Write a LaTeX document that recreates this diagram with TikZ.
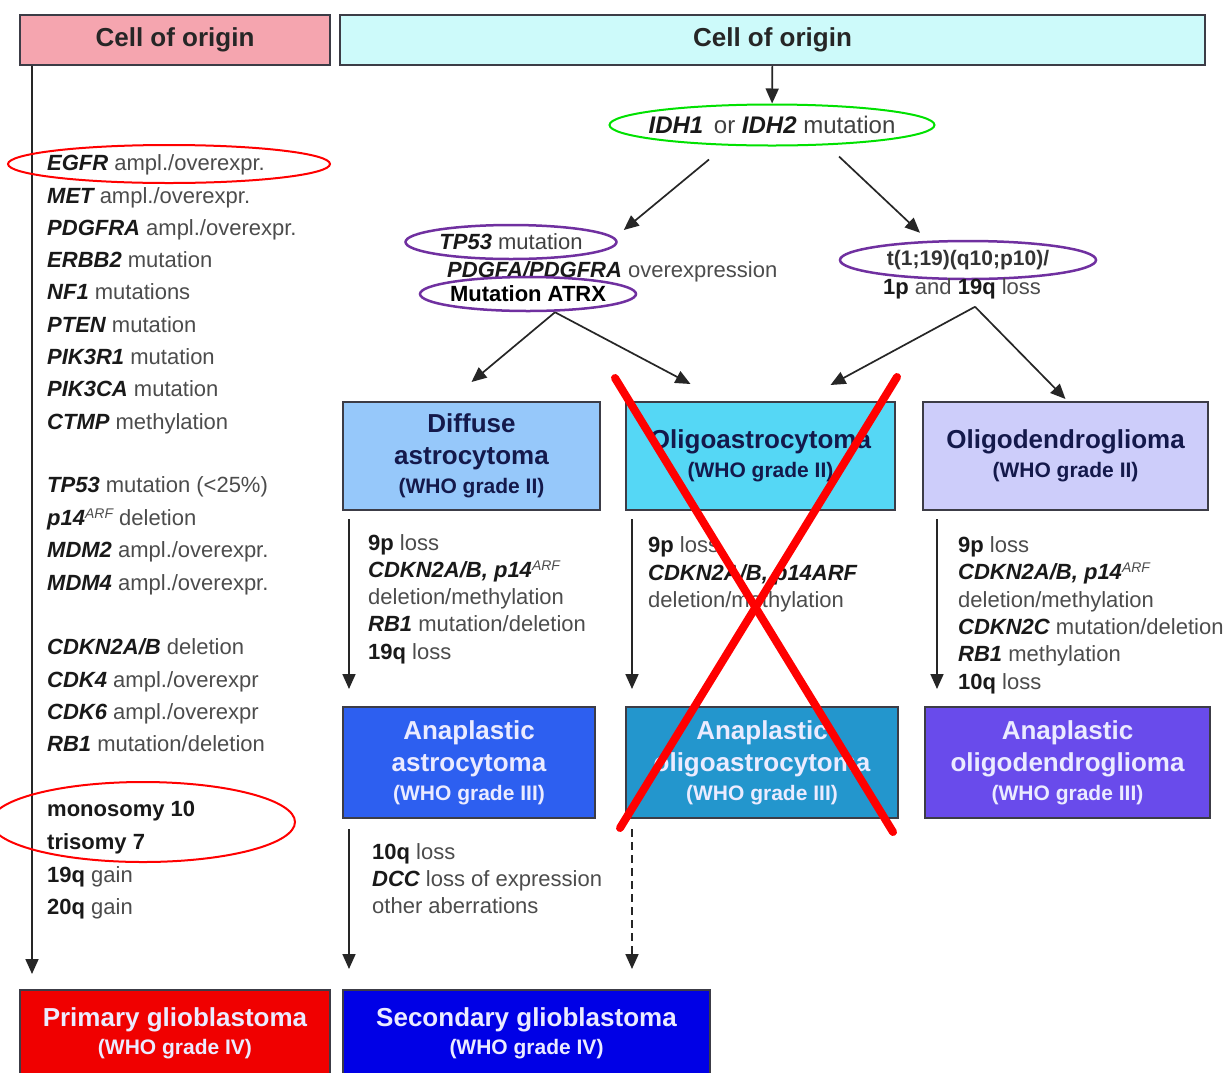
\documentclass[tikz,border=0pt]{standalone}
\usepackage{fontspec}
\setmainfont{Liberation Sans}
\usetikzlibrary{positioning, shapes.geometric, arrows.meta}

\definecolor{headpink}{RGB}{245,165,175}
\definecolor{headcyan}{RGB}{205,250,250}
\definecolor{diffblue}{RGB}{150,200,250}
\definecolor{oacyan}{RGB}{85,215,245}
\definecolor{odlav}{RGB}{205,205,250}
\definecolor{aablue}{RGB}{45,95,240}
\definecolor{aoteal}{RGB}{35,150,205}
\definecolor{aopurple}{RGB}{105,75,235}
\definecolor{gbmred}{RGB}{240,0,0}
\definecolor{gbmblue}{RGB}{0,0,230}
\definecolor{ringpurple}{RGB}{112,48,160}
\definecolor{ringgreen}{RGB}{0,225,0}
\definecolor{navytext}{RGB}{20,25,75}
\definecolor{palewhite}{RGB}{235,235,255}
\definecolor{framegray}{RGB}{60,60,70}

\newcommand{\gn}[1]{{\bfseries\itshape\color{black!90}#1}}
\newcommand{\arm}[1]{{\bfseries\color{black!90}#1}}
\newcommand{\sups}[1]{\raisebox{0.6ex}{\fontsize{14}{14}\selectfont\itshape #1}}
\newcommand{\who}[1]{{\fontsize{21}{26}\selectfont (WHO grade #1)}}

\tikzset{
  headbox/.style={draw=framegray, line width=2pt, minimum height=50, font=\fontsize{26}{30}\selectfont\bfseries, text=black!85},
  tumour/.style={draw=framegray, line width=2pt, align=center, inner sep=0pt, font=\fontsize{26}{32}\selectfont\bfseries},
  gene/.style={anchor=base west, inner sep=0pt, font=\fontsize{22}{26}\selectfont, text=black!70},
  ring/.style={ellipse, draw, line width=2.5pt, inner sep=0pt},
  ringtext/.style={inner sep=0pt, font=\fontsize{22}{26}\selectfont, text=black!75},
  arr/.style={-{Triangle[length=15pt,width=13pt]}, line width=1.7pt, black!85},
}

\begin{document}
\begin{tikzpicture}[x=1pt, y=-1pt]
\useasboundingbox (0,0) rectangle (1226,1072);
\fill[white] (0,0) rectangle (1226,1072);

% headers
\node[headbox, fill=headpink, minimum width=310] (lhead) at (175,40) {Cell of origin};
\node[headbox, fill=headcyan, minimum width=865] (rhead) at (772.5,40) {Cell of origin};

% markers
\node[ring, draw=ringgreen, line width=2pt, minimum width=325, minimum height=41,
  label={[ringtext, font=\fontsize{24}{28}\selectfont]center:\gn{IDH1}\, or \gn{IDH2} mutation}] (idh) at (772,125) {};
\node[ring, draw=ringpurple, minimum width=211, minimum height=34,
  label={[ringtext]center:\gn{TP53} mutation}] (tp53) at (511,242) {};
\node[gene] (pdgfa) at (447,277) {\gn{PDGFA/PDGFRA} overexpression};
\node[ring, draw=ringpurple, minimum width=216, minimum height=34,
  label={[ringtext, font=\fontsize{22}{26}\selectfont\bfseries, text=black]center:Mutation ATRX}] (atrx) at (528,294) {};
\node[ring, draw=ringpurple, minimum width=256, minimum height=38,
  label={[ringtext, font=\fontsize{21}{26}\selectfont\bfseries, text=black!80]center:t(1;19)(q10;p10)/}] (t119) at (968,260) {};
\node[gene] (loss1p) at (883,294) {\arm{1p} and \arm{19q} loss};

% tumour boxes
\node[tumour, fill=diffblue, text=navytext, minimum width=257, minimum height=108] (diffuse) at (471.5,456) {Diffuse\\astrocytoma\\[-3pt]\who{II}};
\node[tumour, fill=oacyan, text=navytext, minimum width=269, minimum height=108] (oligoastro) at (760.5,456) {Oligoastrocytoma\\[-3pt]\who{II}};
\node[tumour, fill=odlav, text=navytext, minimum width=285, minimum height=108] (oligodendro) at (1065.5,456) {Oligodendroglioma\\[-3pt]\who{II}};
\node[tumour, fill=aablue, text=palewhite, minimum width=252, minimum height=111] (anaastro) at (469,762.5) {Anaplastic\\astrocytoma\\[-3pt]\who{III}};
\node[tumour, fill=aoteal, text=palewhite, minimum width=272, minimum height=111] (anaoa) at (762,762.5) {Anaplastic\\oligoastrocytoma\\[-3pt]\who{III}};
\node[tumour, fill=aopurple, text=palewhite, minimum width=285, minimum height=111] (anaod) at (1067.5,762.5) {Anaplastic\\oligodendroglioma\\[-3pt]\who{III}};
\node[tumour, fill=gbmred, text=palewhite, minimum width=310, minimum height=86] (pgbm) at (175,1033) {Primary glioblastoma\\[-4pt]\who{IV}};
\node[tumour, fill=gbmblue, text=palewhite, minimum width=367, minimum height=86] (sgbm) at (526.5,1033) {Secondary glioblastoma\\[-4pt]\who{IV}};

% primary pathway
\node[gene] (l1) at (47,170) {\gn{EGFR} ampl./overexpr.};
\node[gene] (l2) at (47,203) {\gn{MET} ampl./overexpr.};
\node[gene] (l3) at (47,235) {\gn{PDGFRA} ampl./overexpr.};
\node[gene] (l4) at (47,267) {\gn{ERBB2} mutation};
\node[gene] (l5) at (47,299) {\gn{NF1} mutations};
\node[gene] (l6) at (47,332) {\gn{PTEN} mutation};
\node[gene] (l7) at (47,364) {\gn{PIK3R1} mutation};
\node[gene] (l8) at (47,396) {\gn{PIK3CA} mutation};
\node[gene] (l9) at (47,429) {\gn{CTMP} methylation};
\node[gene] (l10) at (47,492) {\gn{TP53} mutation (<25\%)};
\node[gene] (l11) at (47,525) {\gn{p14}\sups{ARF} deletion};
\node[gene] (l12) at (47,557) {\gn{MDM2} ampl./overexpr.};
\node[gene] (l13) at (47,590) {\gn{MDM4} ampl./overexpr.};
\node[gene] (l14) at (47,654) {\gn{CDKN2A/B} deletion};
\node[gene] (l15) at (47,687) {\gn{CDK4} ampl./overexpr};
\node[gene] (l16) at (47,719) {\gn{CDK6} ampl./overexpr};
\node[gene] (l17) at (47,751) {\gn{RB1} mutation/deletion};
\node[gene] (l18) at (47,816) {\arm{monosomy 10}};
\node[gene] (l19) at (47,849) {\arm{trisomy 7}};
\node[gene] (l20) at (47,882) {\arm{19q} gain};
\node[gene] (l21) at (47,914) {\arm{20q} gain};

% secondary pathway
\node[gene] (d1) at (368,550) {\arm{9p} loss};
\node[gene] (d2) at (368,577) {\gn{CDKN2A/B, p14}\sups{ARF}};
\node[gene] (d3) at (368,604) {deletion/methylation};
\node[gene] (d4) at (368,631) {\gn{RB1} mutation/deletion};
\node[gene] (d5) at (368,659) {\arm{19q} loss};
\node[gene] (o1) at (648,552) {\arm{9p} loss};
\node[gene] (o2) at (648,580) {\gn{CDKN2A/B, p14ARF}};
\node[gene] (o3) at (648,607) {deletion/methylation};
\node[gene] (g1) at (958,552) {\arm{9p} loss};
\node[gene] (g2) at (958,579) {\gn{CDKN2A/B, p14}\sups{ARF}};
\node[gene] (g3) at (958,607) {deletion/methylation};
\node[gene] (g4) at (958,634) {\gn{CDKN2C} mutation/deletion};
\node[gene] (g5) at (958,661) {\gn{RB1} methylation};
\node[gene] (g6) at (958,689) {\arm{10q} loss};
\node[gene] (a1) at (372,859) {\arm{10q} loss};
\node[gene] (a2) at (372,886) {\gn{DCC} loss of expression};
\node[gene] (a3) at (372,913) {other aberrations};

% arrows
\draw[arr] (rhead) -- (idh);
\draw[arr] ([shift={(-63,13)}]idh.south) -- ([shift={(6,-12)}]tp53.east);
\draw[arr] ([shift={(67,10)}]idh.south) -- ([shift={(-48,-7)}]t119.north);
\draw[arr] ([shift={(27,0)}]atrx.south) -- ([shift={(0,-19)}]diffuse.north);
\draw[arr] ([shift={(27,0)}]atrx.south) -- ([shift={(-70,-17)}]oligoastro.north);
\draw[arr] ([shift={(13,8)}]loss1p.south) -- ([shift={(70,-16)}]oligoastro.north);
\draw[arr] ([shift={(13,8)}]loss1p.south) -- ([shift={(0,-2)}]oligodendro.north);
\draw[arr] ([shift={(13,0)}]lhead.south west) -- ([shift={(13,-15)}]pgbm.north west);
\draw[arr] ([shift={(7,8)}]diffuse.south west) -- ([shift={(7,-17)}]anaastro.north west);
\draw[arr] ([shift={(7,8)}]oligoastro.south west) -- ([shift={(7,-17)}]anaoa.north west);
\draw[arr] ([shift={(15,8)}]oligodendro.south west) -- ([shift={(13,-17)}]anaod.north west);
\draw[arr] ([shift={(7,10)}]anaastro.south west) -- ([shift={(7,-20)}]sgbm.north west);
\draw[arr, dash pattern=on 8pt off 5pt] ([shift={(7,10)}]anaoa.south west) -- ([shift={(290,-20)}]sgbm.north west);

% red marks
\node[ring, draw=red, line width=2pt, minimum width=322, minimum height=38] (egfrring) at (169,164) {};
\node[ring, draw=red, line width=2pt, minimum width=304, minimum height=80] (aneuring) at (143,822) {};
\draw[line width=8pt, red, line cap=round] (615,378) -- (893,832);
\draw[line width=8pt, red, line cap=round] (897,377) -- (620,828);
\end{tikzpicture}
\end{document}
